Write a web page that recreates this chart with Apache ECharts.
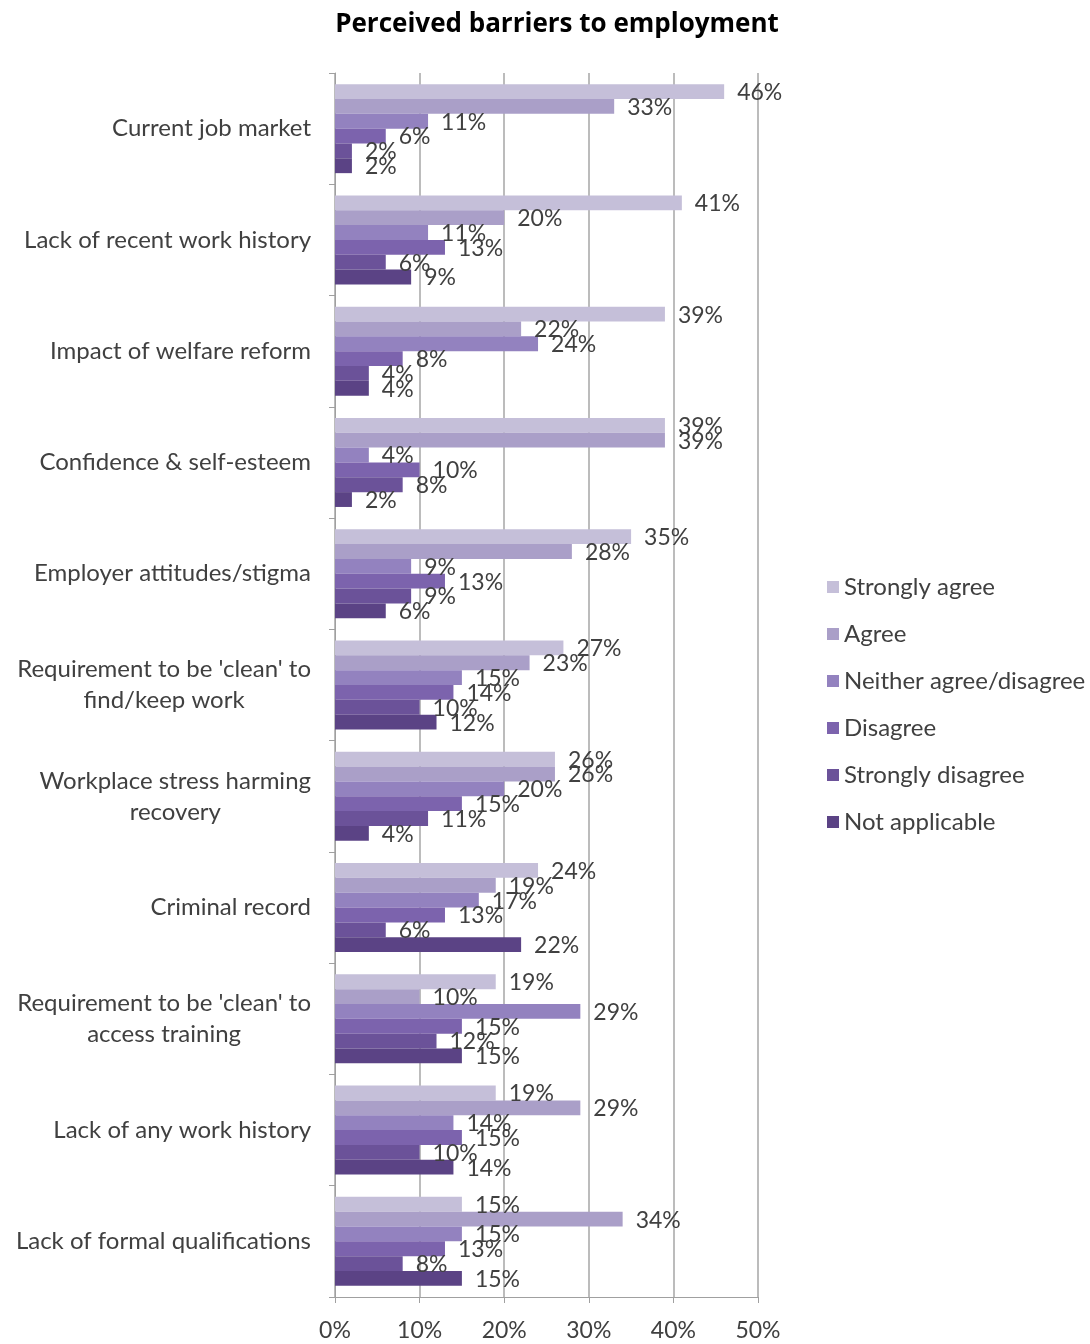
<!DOCTYPE html>
<html><head><meta charset="utf-8">
<script src="https://cdn.jsdelivr.net/npm/echarts@6/dist/echarts.min.js"></script>
<style>html,body{margin:0;padding:0;background:#fff}#c{width:1090px;height:1344px}</style>
</head><body><div id="c"></div>
<script>
const categories = [
  "Current job market",
  "Lack of recent work history",
  "Impact of welfare reform",
  "Confidence & self-esteem",
  "Employer attitudes/stigma",
  "Requirement to be 'clean' to\nfind/keep work",
  "Workplace stress harming\nrecovery",
  "Criminal record",
  "Requirement to be 'clean' to\naccess training",
  "Lack of any work history",
  "Lack of formal qualifications"
];
const seriesNames = ["Strongly agree","Agree","Neither agree/disagree","Disagree","Strongly disagree","Not applicable"];
const stronglyAgree   = [46,41,39,39,35,27,26,24,19,19,15];
const agree           = [33,20,22,39,28,23,26,19,10,29,34];
const neither         = [11,11,24,4,9,15,20,17,29,14,15];
const disagree        = [6,13,8,10,13,14,15,13,15,15,13];
const stronglyDisagree= [2,6,4,8,9,10,11,6,12,10,8];
const notApplicable   = [2,9,4,2,6,12,4,22,15,14,15];
const xTicks = [0,10,20,30,40,50];
const colors = ["#c5bfd9","#aa9fc8","#9382bf","#7c63ad","#6b5299","#5b4385"];
const values = [stronglyAgree,agree,neither,disagree,stronglyDisagree,notApplicable];

const FONT = "Lato";
const chart = echarts.init(document.getElementById('c'));
chart.setOption({
  animation:false,
  title:{text:"Perceived barriers to employment",left:552,top:7,textAlign:'center',
    textStyle:{fontFamily:"Open Sans",fontSize:26,fontWeight:'bold',color:'#000'}},
  legend:{orient:'vertical',left:822,top:570,itemWidth:12,itemHeight:12,itemGap:23,
    icon:'rect',textStyle:{fontFamily:FONT,fontSize:24,color:'#404040'},
    data:seriesNames},
  grid:{left:335,right:332,top:73,bottom:47,containLabel:false},
  xAxis:{type:'value',min:xTicks[0],max:xTicks[xTicks.length-1],interval:10,
    axisLine:{show:true,lineStyle:{color:'#a0a0a0'}},
    axisTick:{show:true,length:6,lineStyle:{color:'#a0a0a0'}},
    splitLine:{show:true,lineStyle:{color:'#a6a6a6',width:1.5}},
    axisLabel:{formatter:'{value}%',margin:22,fontFamily:FONT,fontSize:23,color:'#404040'}},
  yAxis:{type:'category',inverse:true,data:categories,
    axisLine:{show:true,lineStyle:{color:'#a0a0a0'}},
    axisTick:{show:true,length:6,lineStyle:{color:'#a0a0a0'}},
    axisLabel:{margin:24,fontFamily:FONT,fontSize:24,color:'#404040',lineHeight:31,
      formatter:function(v){return v.split('\n').map(function(s){return '{c|'+s+'}';}).join('\n');},
      rich:{c:{align:'center',fontFamily:FONT,fontSize:24,color:'#404040',lineHeight:31}}}},
  series: seriesNames.map(function(n,i){return {
    name:n,type:'bar',data:values[i],barGap:'0%',barCategoryGap:'20%',
    itemStyle:{color:colors[i]},
    label:{show:true,position:'right',distance:13,offset:[0,1],formatter:'{c}%',fontFamily:FONT,fontSize:23,color:'#404040'}
  };})
});
</script></body></html>
